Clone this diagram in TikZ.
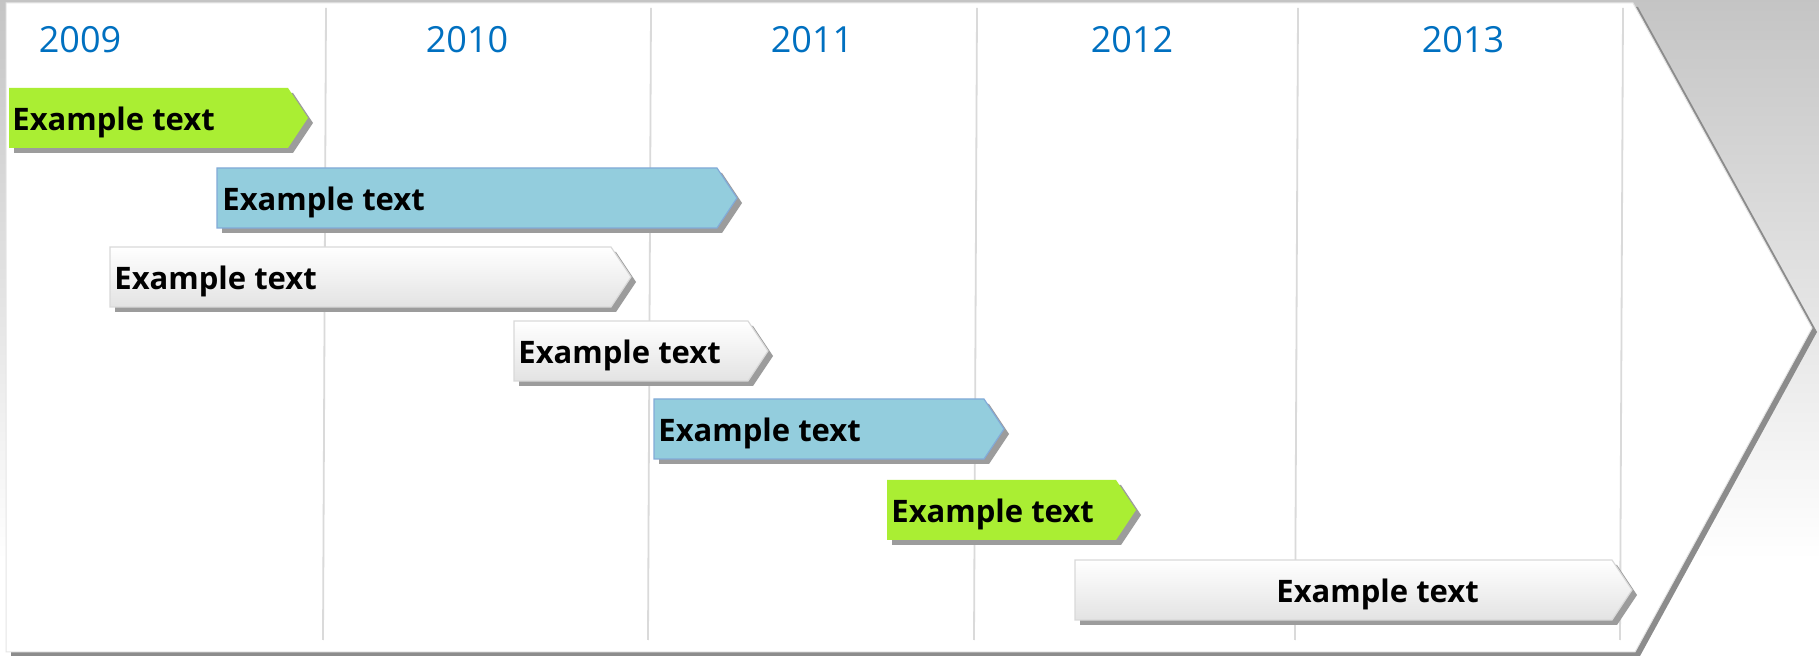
\documentclass[tikz,border=0pt]{standalone}
\usepackage{fontspec}
\setmainfont{Open Sans}

\definecolor{yearblue}{HTML}{0070C0}
\definecolor{barGreen}{HTML}{AAEE33}
\definecolor{barBlue}{HTML}{93CDDD}
\definecolor{barBlueEdge}{HTML}{82AAD8}
\definecolor{shadowgray}{HTML}{9C9C9C}
\definecolor{gridgray}{HTML}{DADADA}

\pgfdeclarelayer{background}
\pgfsetlayers{background,main}

\tikzset{
	barG/.style={fill=barGreen},
	barB/.style={fill=barBlue,draw=barBlueEdge,line width=.6pt},
	barW/.style={top color=white,bottom color=black!11,draw=black!15,line width=.6pt},
	bartext/.style={font=\bfseries\fontsize{15.5}{18}\selectfont,inner sep=0pt,anchor=base west},
	yearlabel/.style={text=yearblue,font=\fontsize{18}{20}\selectfont,inner sep=0pt},
	gridline/.style={gridgray,line width=.9pt},
}

\begin{document}
\begin{tikzpicture}[x=0.5pt,y=-0.5pt]
			\useasboundingbox (0,0) rectangle (1819,656);
			\begin{pgfonlayer}{background}
				\fill[white] (0,0) rectangle (1819,656);
				\shade[top color=black!23,bottom color=white] (0,0) rectangle (1819,560);
			\end{pgfonlayer}
			% panel with its shadow
			\fill[black!45] (11,7) -- (1638,7) -- (1817,332) -- (1640,656) -- (11,656) -- cycle;
			\fill[white,draw=black!10,line width=.5pt] (6,3) -- (1633,3) -- (1812,328) -- (1635,652) -- (6,652) -- cycle;
			\foreach \x in {326,651,977,1298,1623} {
				\draw[gridline] (\x,8) -- (\x-3,640);
			};
			\foreach \yr/\x in {2009/80,2010/467,2011/812,2012/1132,2013/1463} {
				\node[yearlabel] (year\yr) at (\x,40) {\yr};
			};
			% bars: left, right, top, text x, style
			\foreach \xa/\xb/\yt/\tx/\kind [count=\i] in {9/288/88/12/barG, 217/717/168/222/barB, 110/611/247/114/barW, 514/748/321/518/barW, 654/984/399/658/barB, 887/1116/480/891/barG, 1075/1612/560/1276/barW} {
				\fill[shadowgray] (\xa+5,\yt+5) -- ++(\xb-\xa,0) -- ++(20,30) -- ++(-20,30) -- ++(\xa-\xb,0) -- cycle;
				\path[\kind] (\xa,\yt) -- ++(\xb-\xa,0) -- ++(20,30) -- ++(-20,30) -- ++(\xa-\xb,0) -- cycle;
				\node[bartext] (bar\i) at (\tx,\yt+43) {Example text};
			};
		\end{tikzpicture}
\end{document}
